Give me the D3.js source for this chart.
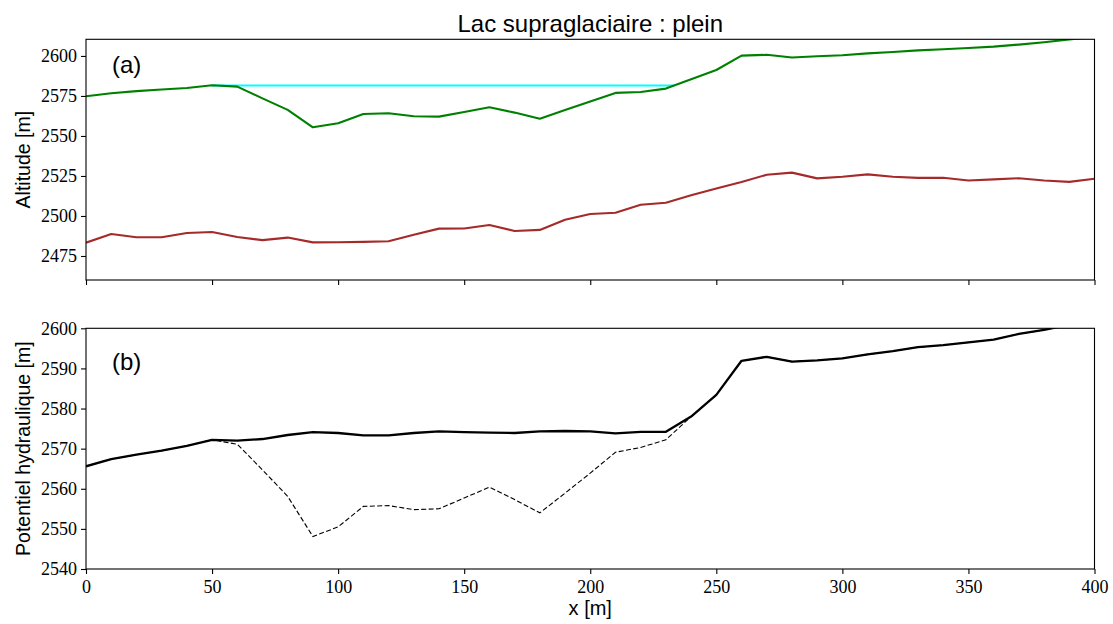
<!DOCTYPE html>
<html>
<head>
<meta charset="utf-8">
<script src="https://cdn.jsdelivr.net/npm/d3@7"></script>
<style>
  html, body { margin: 0; padding: 0; background: #fff; }
  svg { display: block; }
  .tick text { font-family: "Liberation Serif", "DejaVu Serif", serif; font-size: 18px; fill: #000; }
  .tick line, .domain { stroke: #000; }
  .lbl { font-family: "Liberation Sans", Arial, sans-serif; fill: #000; }
</style>
</head>
<body>
<svg id="chart" width="1113" height="624"></svg>
<script>
// Profile positions along the flow line [m]
const xs = [0, 10, 20, 30, 40, 50, 60, 70, 80, 90, 100, 110, 120, 130, 140, 150, 160, 170, 180, 190, 200,
            210, 220, 230, 240, 250, 260, 270, 280, 290, 300, 310, 320, 330, 340, 350, 360, 370, 380, 390, 400];

// Ice surface altitude [m]
const surface = [2574.8, 2576.7, 2578.0, 2579.0, 2580.0, 2581.7, 2580.8, 2573.5, 2566.3, 2555.4, 2557.9,
                 2563.7, 2564.2, 2562.3, 2562.1, 2565.0, 2567.9, 2564.6, 2560.8, 2566.2, 2571.5,
                 2576.9, 2577.5, 2579.6, 2585.4, 2591.2, 2600.2, 2600.7, 2599.0, 2599.8, 2600.4,
                 2601.6, 2602.5, 2603.5, 2604.2, 2605.0, 2605.8, 2607.1, 2608.6, 2610.3, 2612.0];

// Glacier bed altitude [m]
const bed = [2483.3, 2488.7, 2486.7, 2486.7, 2489.4, 2490.0, 2486.9, 2484.9, 2486.5, 2483.5, 2483.6,
             2483.8, 2484.2, 2488.3, 2492.1, 2492.2, 2494.4, 2490.6, 2491.3, 2497.7, 2501.2,
             2502.0, 2507.0, 2508.3, 2512.9, 2517.2, 2521.3, 2525.8, 2527.1, 2523.5, 2524.5,
             2526.0, 2524.5, 2523.8, 2523.9, 2522.2, 2522.9, 2523.6, 2522.2, 2521.3, 2523.3];

// Full lake: water surface level and its extent along x
const lakeLevel = 2581.5;
const lakeX = [50, 233.3];

// Hydraulic potential with the full lake [m]
const potentialLake = [2565.6, 2567.4, 2568.5, 2569.5, 2570.7, 2572.2, 2572.0, 2572.4, 2573.4, 2574.1, 2573.9,
                       2573.3, 2573.3, 2573.9, 2574.3, 2574.1, 2574.0, 2573.9, 2574.3, 2574.4, 2574.3,
                       2573.8, 2574.2, 2574.2, 2578.0, 2583.4, 2591.9, 2592.9, 2591.7, 2592.0, 2592.5,
                       2593.5, 2594.3, 2595.3, 2595.8, 2596.5, 2597.2, 2598.6, 2599.6, 2600.9, 2602.2];

// Hydraulic potential without water load [m]
const potentialDry = [2565.6, 2567.4, 2568.5, 2569.5, 2570.7, 2572.2, 2571.1, 2564.7, 2558.1, 2548.1, 2550.5,
                      2555.6, 2555.8, 2554.8, 2555.0, 2557.7, 2560.4, 2557.3, 2554.0, 2558.9, 2563.9,
                      2569.1, 2570.3, 2572.2, 2578.0, 2583.4, 2591.9, 2592.9, 2591.7, 2592.0, 2592.5,
                      2593.5, 2594.3, 2595.3, 2595.8, 2596.5, 2597.2, 2598.6, 2599.6, 2600.9, 2602.2];

// Axis ticks
const xTicks = [0, 50, 100, 150, 200, 250, 300, 350, 400];
const yTicksA = [2475, 2500, 2525, 2550, 2575, 2600];
const yTicksB = [2540, 2550, 2560, 2570, 2580, 2590, 2600];

const svg = d3.select("#chart");
svg.append("rect").attr("width", 1113).attr("height", 624).attr("fill", "#fff");

const left = 86, right = 1094.5;
const x = d3.scaleLinear().domain([0, 400]).range([left, right]);

const panelA = { top: 39.3, bottom: 280, y: d3.scaleLinear().domain([2460, 2610.4]).range([280, 39.3]) };
const panelB = { top: 328.3, bottom: 569, y: d3.scaleLinear().domain([2540, 2600]).range([569, 328.3]) };

function panel(p, id, yTicks, showXLabels) {
  const g = svg.append("g");
  g.append("clipPath").attr("id", id)
    .append("rect").attr("x", left).attr("y", p.top)
    .attr("width", right - left).attr("height", p.bottom - p.top);
  const plot = g.append("g").attr("clip-path", `url(#${id})`);

  const xAxis = d3.axisBottom(x).tickValues(xTicks).tickSize(5).tickPadding(5)
    .tickFormat(showXLabels ? d3.format("d") : () => "");
  const gx = g.append("g").attr("transform", `translate(0,${p.bottom})`).call(xAxis);
  const gy = g.append("g").attr("transform", `translate(${left},0)`)
    .call(d3.axisLeft(p.y).tickValues(yTicks).tickSize(5).tickPadding(4).tickFormat(d3.format("d")));
  [gx, gy].forEach(a => {
    a.select(".domain").remove();
    a.selectAll(".tick line").attr("stroke-width", 1.1);
  });
  gy.selectAll(".tick text").attr("dy", "0.33em");
  gx.selectAll(".tick text").attr("dy", "0.78em");

  // frame
  g.append("rect").attr("x", left).attr("y", p.top)
    .attr("width", right - left).attr("height", p.bottom - p.top)
    .attr("fill", "none").attr("stroke", "#000").attr("stroke-width", 1.1);
  return plot;
}

const line = (yScale, vals) => d3.line().x((d, i) => x(xs[i])).y(d => yScale(d))(vals);

// (a) altitudes
const plotA = panel(panelA, "clipA", yTicksA, false);
plotA.append("path")
  .attr("d", d3.line().x(d => x(d)).y(() => panelA.y(lakeLevel))(lakeX))
  .attr("fill", "none").attr("stroke", "cyan").attr("stroke-width", 2);
plotA.append("path").attr("d", line(panelA.y, bed))
  .attr("fill", "none").attr("stroke", "brown").attr("stroke-width", 2.1).attr("stroke-linejoin", "round");
plotA.append("path").attr("d", line(panelA.y, surface))
  .attr("fill", "none").attr("stroke", "green").attr("stroke-width", 2.1).attr("stroke-linejoin", "round");

// (b) hydraulic potential
const plotB = panel(panelB, "clipB", yTicksB, true);
plotB.append("path").attr("d", line(panelB.y, potentialDry))
  .attr("fill", "none").attr("stroke", "#000").attr("stroke-width", 1.1)
  .attr("stroke-dasharray", "5,2.4");
plotB.append("path").attr("d", line(panelB.y, potentialLake))
  .attr("fill", "none").attr("stroke", "#000").attr("stroke-width", 2.3).attr("stroke-linejoin", "round");

// texts
const cx = (left + right) / 2;
svg.append("text").attr("class", "lbl").attr("x", cx).attr("y", 32)
  .attr("text-anchor", "middle").attr("font-size", 24).text("Lac supraglaciaire : plein");
svg.append("text").attr("class", "lbl").attr("x", 112).attr("y", 73)
  .attr("font-size", 24).text("(a)");
svg.append("text").attr("class", "lbl").attr("x", 112).attr("y", 370)
  .attr("font-size", 24).text("(b)");
svg.append("text").attr("class", "lbl").attr("x", cx).attr("y", 615)
  .attr("text-anchor", "middle").attr("font-size", 20).text("x [m]");
svg.append("text").attr("class", "lbl")
  .attr("transform", `translate(30,${(panelA.top + panelA.bottom) / 2}) rotate(-90)`)
  .attr("text-anchor", "middle").attr("font-size", 19.5).text("Altitude [m]");
svg.append("text").attr("class", "lbl")
  .attr("transform", `translate(30,${(panelB.top + panelB.bottom) / 2}) rotate(-90)`)
  .attr("text-anchor", "middle").attr("font-size", 19.5).text("Potentiel hydraulique [m]");
</script>
</body>
</html>
